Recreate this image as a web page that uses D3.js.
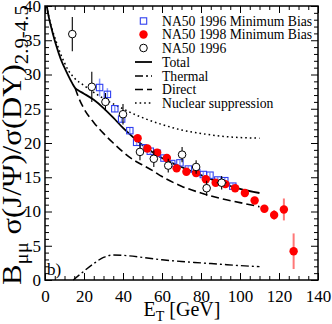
<!DOCTYPE html>
<html><head><meta charset="utf-8">
<script src="https://cdn.jsdelivr.net/npm/d3@7"></script>
<style>body{margin:0;background:#fff}svg{display:block}text{font-family:"Liberation Serif","Times New Roman",serif}</style>
</head><body>
<svg id="c" width="332" height="324"></svg>
<script>
// ---- data ----
const xTicks = [0,20,40,60,80,100,120,140];
const yTicks = [0,5,10,15,20,25,30,35,40];

// NA50 1996 Minimum Bias (open blue squares)
const mb96E = [28.0,32.0,35.8,39.3,43.5,47.0,50.5,54.0,57.6,61.0,65.0,69.2,73.5,77.8,81.2,84.6,88.6,92.2,96.3];
const mb96V = [28.1,27.1,25.0,23.5,21.8,20.1,19.3,18.8,18.5,17.8,17.0,17.1,16.2,15.7,15.4,15.3,14.6,14.5,13.7];
const mb96Err = [1.3,0.9,0.5,0.5,0.4,0.4,0.4,0.4,0.4,0.4,0.4,0.4,0.4,0.4,0.4,0.4,0.4,0.4,0.4];

// NA50 1998 Minimum Bias (filled red circles)
const mb98E = [47.5,52.5,57.5,62.5,67.5,72.5,77.5,82.5,87.5,92.5,97.5,102.5,107.5,112.5,117.5,122.5,127.5];
const mb98V = [20.7,19.2,18.6,17.8,16.3,15.8,15.6,14.7,14.2,14.0,13.4,12.7,11.6,10.4,9.5,10.3,4.2];
const mb98Err = [0.3,0.3,0.3,0.3,0.3,0.3,0.3,0.3,0.3,0.3,0.3,0.3,0.4,0.5,0.7,1.6,2.6];

// NA50 1996 (open black circles)
const na96E = [14.0,24.0,31.0,40.0,48.7,55.8,63.2,70.3,77.5,82.9,90.6];
const na96V = [35.9,28.2,26.0,24.2,18.7,17.7,16.7,18.3,16.5,13.4,14.2];
const na96Err = [2.5,2.2,1.3,1.5,1.2,1.2,1.0,1.1,1.0,1.1,1.0];
const na96XErr = [0,0,0,0,0,0,0,0,0,0,2.5];

// model curves
const totalE = [0.9,2,4,6,8,10,12,14,15.5,17,20,25,30,35,40,45,50,55,60,65,70,80,90,100,110];
const totalV = [40,38.3,36.0,34.0,32.3,31.0,29.8,28.7,28.0,27.7,27.2,26.3,25.1,23.7,22.2,20.9,19.7,18.7,17.8,17.1,16.5,15.3,14.2,13.3,12.7];
const directE = [15.5,17,20,25,30,35,40,45,50,55,60,70,80,90,100,110];
const directV = [28.0,26.8,25.0,23.0,21.4,20.0,18.7,17.6,16.8,16.0,15.1,13.7,12.7,11.9,11.3,10.7];
const thermalE = [14.5,17,20,25,30,35,40,50,60,70,80,90,100,110];
const thermalV = [0,0.6,1.3,2.4,3.3,3.65,3.6,3.3,2.95,2.7,2.5,2.3,2.1,1.95];
const nuclE = [0.9,2,4,6,8,10,12,15,20,25,30,35,40,45,50,60,70,80,90,100,110];
const nuclV = [40,38.4,36.3,34.6,33.0,31.7,30.6,29.5,28.4,27.4,26.5,25.7,25.0,24.3,23.7,22.7,21.9,21.4,21.0,20.8,20.7];

const legendLabels = ["NA50 1996 Minimum Bias","NA50 1998 Minimum Bias","NA50 1996","Total","Thermal","Direct","Nuclear suppression"];

// ---- drawing ----
const svg = d3.select("#c");
const L=45,R=318,T=6,B=280;
const x = d3.scaleLinear().domain([0,140]).range([L,R]);
const y = d3.scaleLinear().domain([0,40]).range([B,T]);

const blue="#3040f0", blueErr="#8898ff", red="#ff0000", redErr="#ff7878";

// curves
const line = d3.line().x(d=>x(d[0])).y(d=>y(d[1])).curve(d3.curveMonotoneX);
const zip=(a,b)=>a.map((v,i)=>[v,b[i]]);
const styles = {
  thermal:{dash:"8,3,2,3"},
  direct:{dash:"8,4"},
  nucl:{dash:"1.6,3"}
};
svg.append("path").attr("d",line(zip(nuclE,nuclV))).attr("fill","none").attr("stroke","#000").attr("stroke-width",1.5).attr("stroke-dasharray",styles.nucl.dash);
svg.append("path").attr("d",line(zip(directE,directV))).attr("fill","none").attr("stroke","#000").attr("stroke-width",1.6).attr("stroke-dasharray",styles.direct.dash);
svg.append("path").attr("d",line(zip(thermalE,thermalV))).attr("fill","none").attr("stroke","#000").attr("stroke-width",1.4).attr("stroke-dasharray",styles.thermal.dash);
svg.append("path").attr("d",line(zip(totalE,totalV))).attr("fill","none").attr("stroke","#000").attr("stroke-width",1.8);

// squares
const sq = svg.append("g");
mb96E.forEach((e,i)=>{
  sq.append("line").attr("x1",x(e)).attr("x2",x(e)).attr("y1",y(mb96V[i]-mb96Err[i])).attr("y2",y(mb96V[i]+mb96Err[i])).attr("stroke",blueErr).attr("stroke-width",1.5);
});
mb96E.forEach((e,i)=>{
  sq.append("rect").attr("x",x(e)-3.2).attr("y",y(mb96V[i])-3.2).attr("width",6.4).attr("height",6.4).attr("fill","none").attr("stroke",blue).attr("stroke-width",1.1);
});
// red dots
const rd = svg.append("g");
mb98E.forEach((e,i)=>{
  rd.append("line").attr("x1",x(e)).attr("x2",x(e)).attr("y1",y(mb98V[i]-mb98Err[i])).attr("y2",y(mb98V[i]+mb98Err[i])).attr("stroke",redErr).attr("stroke-width",2);
});
mb98E.forEach((e,i)=>{
  rd.append("circle").attr("cx",x(e)).attr("cy",y(mb98V[i])).attr("r",4.2).attr("fill",red);
});
// open circles
const oc = svg.append("g");
na96E.forEach((e,i)=>{
  oc.append("line").attr("x1",x(e)).attr("x2",x(e)).attr("y1",y(na96V[i]-na96Err[i])).attr("y2",y(na96V[i]+na96Err[i])).attr("stroke","#000").attr("stroke-width",1.1);
  if(na96XErr[i]>0) oc.append("line").attr("x1",x(e-na96XErr[i])).attr("x2",x(e+na96XErr[i])).attr("y1",y(na96V[i])).attr("y2",y(na96V[i])).attr("stroke","#000").attr("stroke-width",1.1);
});
na96E.forEach((e,i)=>{
  oc.append("circle").attr("cx",x(e)).attr("cy",y(na96V[i])).attr("r",3.8).attr("fill","#fff").attr("stroke","#000").attr("stroke-width",1);
});

// axes
const tickStyle = g=>{g.select(".domain").remove(); g.selectAll("line").attr("stroke","#000").attr("stroke-width",1);};
const xMinor = d3.range(0,141,5).filter(v=>v%20!==0);
const yMinor = d3.range(0,41,1).filter(v=>v%5!==0);
svg.append("g").attr("transform",`translate(0,${B})`).call(d3.axisBottom(x).tickValues(xTicks).tickSize(-7).tickPadding(10).tickFormat(d3.format("d"))).call(tickStyle)
  .selectAll("text").attr("font-size",17).attr("fill","#000").attr("font-family","Liberation Serif");
svg.append("g").attr("transform",`translate(0,${B})`).call(d3.axisBottom(x).tickValues(xMinor).tickSize(-4).tickFormat("")).call(tickStyle);
svg.append("g").attr("transform",`translate(0,${T})`).call(d3.axisTop(x).tickValues(xTicks).tickSize(-7).tickFormat("")).call(tickStyle);
svg.append("g").attr("transform",`translate(0,${T})`).call(d3.axisTop(x).tickValues(xMinor).tickSize(-4).tickFormat("")).call(tickStyle);
svg.append("g").attr("transform",`translate(${L},0)`).call(d3.axisLeft(y).tickValues(yTicks).tickSize(-7).tickPadding(4).tickFormat(d3.format("d"))).call(tickStyle)
  .selectAll("text").attr("font-size",17).attr("fill","#000").attr("font-family","Liberation Serif");
svg.append("g").attr("transform",`translate(${L},0)`).call(d3.axisLeft(y).tickValues(yMinor).tickSize(-4).tickFormat("")).call(tickStyle);
svg.append("g").attr("transform",`translate(${R},0)`).call(d3.axisRight(y).tickValues(yTicks).tickSize(-7).tickFormat("")).call(tickStyle);
svg.append("g").attr("transform",`translate(${R},0)`).call(d3.axisRight(y).tickValues(yMinor).tickSize(-4).tickFormat("")).call(tickStyle);
svg.append("rect").attr("x",L).attr("y",T).attr("width",R-L).attr("height",B-T).attr("fill","none").attr("stroke","#000").attr("stroke-width",1.5);

// legend
const lg = svg.append("g");
const ly = [21,34.5,48,62,76,89.5,103];
const lx0=135, lx1=152, lsym=143.5, ltx=162;
lg.append("rect").attr("x",lsym-3.2).attr("y",ly[0]-3.2).attr("width",6.4).attr("height",6.4).attr("fill","none").attr("stroke",blue).attr("stroke-width",1.1);
lg.append("circle").attr("cx",lsym).attr("cy",ly[1]).attr("r",4.2).attr("fill",red);
lg.append("circle").attr("cx",lsym).attr("cy",ly[2]).attr("r",3.8).attr("fill","#fff").attr("stroke","#000");
[[3,null,1.8],[4,styles.thermal.dash,1.4],[5,styles.direct.dash,1.6],[6,styles.nucl.dash,1.5]].forEach(([i,d,w])=>{
  lg.append("line").attr("x1",lx0).attr("x2",lx1).attr("y1",ly[i]).attr("y2",ly[i]).attr("stroke","#000").attr("stroke-width",w).attr("stroke-dasharray",d);
});
legendLabels.forEach((t,i)=>{
  lg.append("text").attr("x",ltx).attr("y",ly[i]).attr("dy","0.35em").attr("font-size",13.7).text(t);
});

// panel label
svg.append("text").attr("x",47).attr("y",275).attr("font-size",17).text("b)");

// x title
const xt = svg.append("text").attr("x",182).attr("y",316).attr("text-anchor","middle").attr("font-size",20);
xt.append("tspan").text("E");
xt.append("tspan").attr("font-size",14).attr("dy",5).text("T");
xt.append("tspan").attr("dy",-5).text(" [GeV]");

// y title
const yg = svg.append("g").attr("transform","translate(21,285) rotate(-90)");
const yt = yg.append("text").attr("text-anchor","start").attr("font-size",28);
yt.append("tspan").text("B");
yt.append("tspan").attr("font-size",19).attr("dy",7).text("μμ");
yt.append("tspan").attr("dy",-7).text(" σ(J/Ψ)/σ(DY)");
yt.append("tspan").attr("font-size",19).attr("dy",7).text("2.9-4.5");
const len = yt.node().getComputedTextLength();
yt.attr("transform",`scale(${Math.min(1.12,280/len)},1)`);
</script>
</body></html>
